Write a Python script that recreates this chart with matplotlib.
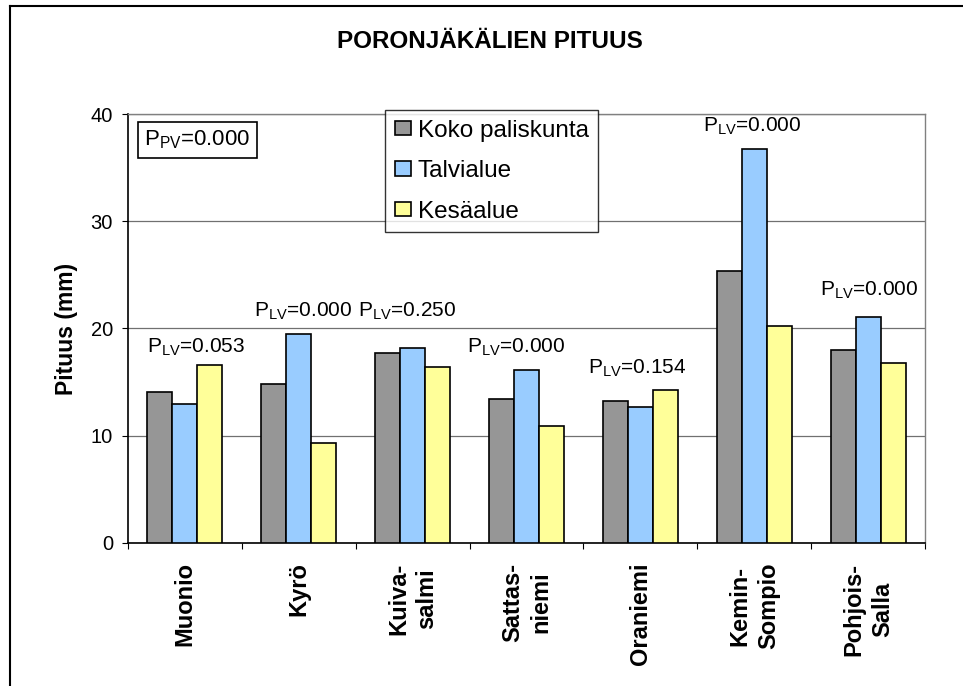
import matplotlib
matplotlib.use("Agg")
import matplotlib.pyplot as plt
import numpy as np
from matplotlib.lines import Line2D

plt.rcParams['font.family'] = ['Liberation Sans', 'DejaVu Sans']
plt.rcParams['mathtext.fontset'] = 'custom'
plt.rcParams['mathtext.rm'] = 'Liberation Sans'

# data
areas = ['Muonio', 'Kyrö', 'Kuiva-\nsalmi', 'Sattas-\nniemi', 'Oraniemi',
         'Kemin-\nSompio', 'Pohjois-\nSalla']
series = ['Koko paliskunta', 'Talvialue', 'Kesäalue']
koko = [14.1, 14.8, 17.7, 13.4, 13.2, 25.4, 18.0]
talvi = [13.0, 19.5, 18.2, 16.1, 12.7, 36.7, 21.1]
kesa = [16.6, 9.3, 16.4, 10.9, 14.3, 20.2, 16.8]
p_lv = ['0.053', '0.000', '0.250', '0.000', '0.154', '0.000', '0.000']
p_pv = '0.000'

# where the P_LV labels sit (value units) and small x shifts
label_y = [17.7, 21.1, 21.1, 17.7, 15.8, 38.35, 23.1]
label_dx = [0.1, 0.035, -0.05, -0.09, -0.03, -0.02, 0.01]

colors = ['#969696', '#99ccff', '#ffff99']

fig = plt.figure(figsize=(9.63, 6.86), dpi=100)
ax = fig.add_axes([0.1329, 0.2085, 0.8277, 0.6253])

x = np.arange(len(areas))
w = 0.22
for k, (vals, name) in enumerate(zip([koko, talvi, kesa], series)):
    ax.bar(x + (k - 1) * w, vals, w, color=colors[k], edgecolor='black',
           linewidth=1.2, label=name, zorder=3)

for i in range(len(areas)):
    ax.text(x[i] + label_dx[i], label_y[i], r'P$\mathregular{_{LV}}$=' + p_lv[i],
            ha='center', va='baseline', fontsize=15)

ax.text(0.087, 0.939, r'P$\mathregular{_{PV}}$=' + p_pv, transform=ax.transAxes,
        ha='center', va='center', fontsize=16,
        bbox=dict(boxstyle='square,pad=0.3', facecolor='white',
                  edgecolor='black', linewidth=1.2))

ax.set_xlim(-0.5, len(areas) - 0.5)
ax.set_ylim(0, 40)
ax.set_yticks([0, 10, 20, 30, 40])
ax.yaxis.grid(True, color='#707070', linewidth=0.9, zorder=0)
ax.set_axisbelow(True)

ax.set_xticks(np.arange(len(areas) + 1) - 0.5)
ax.set_xticklabels([])
ax.set_xticks(x, minor=True)
ax.set_xticklabels(areas, minor=True, rotation=90, fontsize=17,
                   fontweight='bold', multialignment='center',
                   linespacing=1.3)
ax.tick_params(axis='x', which='minor', length=0, pad=14)
ax.tick_params(axis='x', which='major', length=4.3, direction='out')
ax.tick_params(axis='y', length=4.3, pad=6.5, labelsize=14.5)

for s in ['left', 'bottom']:
    ax.spines[s].set_color('black')
    ax.spines[s].set_linewidth(1.2)
for s in ['right', 'top']:
    ax.spines[s].set_color('#808080')
    ax.spines[s].set_linewidth(1.0)

ax.set_ylabel('Pituus (mm)', fontsize=16.5, fontweight='bold')
ax.yaxis.set_label_coords(-0.063, 0.5)

leg = ax.legend(loc='upper left', bbox_to_anchor=(0.3225, 1.0093),
                borderaxespad=0, fontsize=17.5, frameon=True, fancybox=False,
                handlelength=0.66, handleheight=0.55, handletextpad=0.28,
                labelspacing=0.76, borderpad=0.4)
leg.get_frame().set_edgecolor('black')
leg.get_frame().set_linewidth(1.0)
for h in leg.legend_handles:
    h.set_edgecolor('black')

fig.text(0.509, 0.940, 'PORONJÄKÄLIEN PITUUS', ha='center', va='center',
         fontsize=17.5, fontweight='bold')

# outer chart border (cut off at right and bottom)
fig.add_artist(Line2D([10 / 963, 10 / 963], [0, 1 - 6 / 686],
                      transform=fig.transFigure, color='black', linewidth=1.5))
fig.add_artist(Line2D([10 / 963, 1], [1 - 6 / 686, 1 - 6 / 686],
                      transform=fig.transFigure, color='black', linewidth=1.5))

fig.savefig('out.png', dpi=100)
